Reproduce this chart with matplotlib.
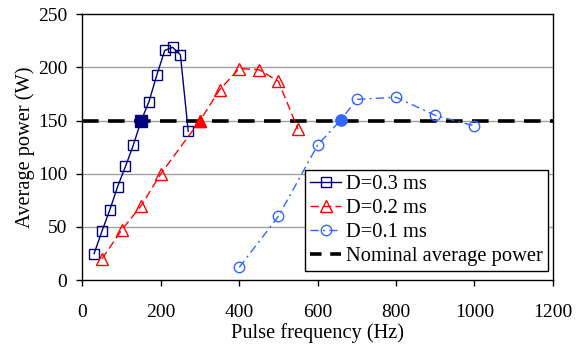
import matplotlib
matplotlib.use("Agg")
import matplotlib.pyplot as plt

plt.rcParams['font.family'] = ['Liberation Serif', 'DejaVu Serif']

# Data
f_03 = [30, 50, 70, 90, 110, 130, 150, 170, 190, 210, 230, 250, 270]
p_03 = [25, 46, 66, 88, 107, 127, 150, 168, 193, 216, 219, 212, 140]
f_02 = [50, 100, 150, 200, 300, 350, 400, 450, 500, 550]
p_02 = [20, 47, 70, 100, 150, 179, 199, 198, 187, 142]
f_01 = [400, 500, 600, 660, 700, 800, 900, 1000]
p_01 = [12, 60, 127, 151, 170, 172, 155, 145]
nominal = 150
hl_03 = (150, 150)
hl_02 = (300, 150)
hl_01 = (660, 151)

navy = '#000080'
red = '#FF0000'
lblue = '#3366FF'

fig = plt.figure(figsize=(5.82, 3.45), dpi=100)
ax = fig.add_axes([0.1415, 0.188, 0.8085, 0.7705])

ax.set_xlim(0, 1200)
ax.set_ylim(0, 250)
ax.set_xticks(range(0, 1201, 200))
ax.set_yticks(range(0, 251, 50))
for y in [50, 100, 150, 200]:
    ax.axhline(y, color='#a0a0a0', lw=1.0, zorder=0)

ax.axhline(nominal, color='black', lw=2.6, dashes=(4.6, 2.6), zorder=2,
           label='Nominal average power')

l3, = ax.plot(f_03, p_03, color=navy, lw=1.0, marker='s', ms=7.5, mfc='none',
              mec=navy, mew=1.0, label='D=0.3 ms', zorder=3)
l2, = ax.plot(f_02, p_02, color=red, lw=1.0, dashes=(6, 3), marker='^', ms=8, mfc='none',
              mec=red, mew=1.0, label='D=0.2 ms', zorder=3)
l1, = ax.plot(f_01, p_01, color=lblue, lw=1.0, dashes=(6, 3, 1.5, 3), marker='o', ms=7.5,
              mfc='none', mec=lblue, mew=1.0, label='D=0.1 ms', zorder=3)

ax.plot([hl_03[0]], [hl_03[1]], marker='s', ms=8, color=navy, ls='none', zorder=4)
ax.plot([hl_02[0]], [hl_02[1]], marker='^', ms=9, color=red, ls='none', zorder=4)
ax.plot([hl_01[0]], [hl_01[1]], marker='o', ms=8, color=lblue, ls='none', zorder=4)

for s in ax.spines.values():
    s.set_linewidth(1.0)
    s.set_color('black')

ax.tick_params(axis='both', labelsize=14, direction='out', length=4.2, width=1)
ax.tick_params(axis='x', pad=13)
ax.tick_params(axis='y', pad=6.5)
ax.set_xlabel('Pulse frequency (Hz)', fontsize=14.7, labelpad=1.5)
ax.set_ylabel('Average power (W)', fontsize=14.7, labelpad=2)

nom_handle = plt.Line2D([], [], color='black', lw=2.6, dashes=(3.2, 2.4))
leg = ax.legend([l3, l2, l1, nom_handle],
                ['D=0.3 ms', 'D=0.2 ms', 'D=0.1 ms', 'Nominal average power'],
                loc='upper left', bbox_to_anchor=(0.4735, 0.415), borderaxespad=0,
                fontsize=14.8, frameon=True, fancybox=False, edgecolor='black',
                framealpha=1, handlelength=1.5, handletextpad=0.25,
                labelspacing=0.22, borderpad=0.25)
leg.get_frame().set_linewidth(1.0)

fig.savefig('out.png', dpi=100)
